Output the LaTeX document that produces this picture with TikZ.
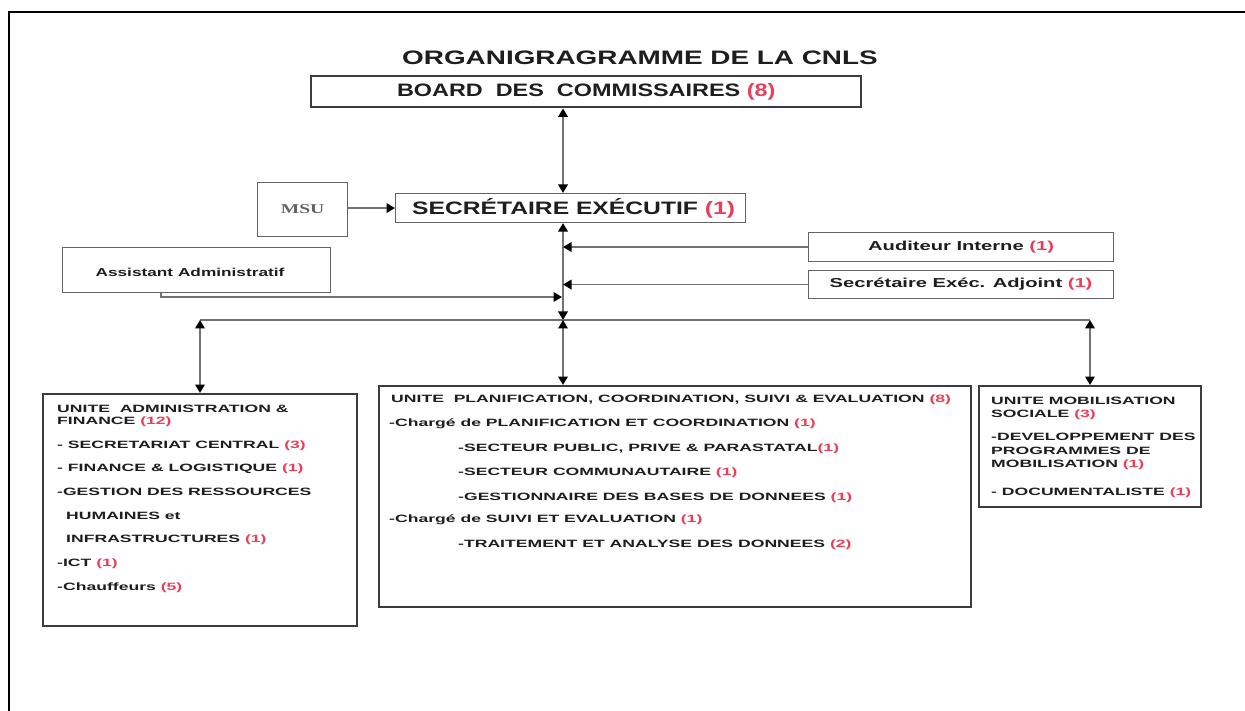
\documentclass[tikz,border=0pt]{standalone}
\usepackage{fontspec}
\setmainfont{Liberation Sans}
\newfontfamily\msufont{Liberation Serif}
\usepackage{graphicx}
\usetikzlibrary{arrows.meta}
\definecolor{numred}{RGB}{232,64,88}
\definecolor{boxc}{RGB}{60,60,60}
\definecolor{thinc}{RGB}{100,100,100}
\definecolor{linec}{RGB}{115,115,115}
\definecolor{txtc}{RGB}{30,30,30}
\newcommand{\rn}[1]{\textcolor{numred}{#1}}
\newcommand{\sx}[2]{\scalebox{#1}[1]{#2}}
\begin{document}
\begin{tikzpicture}[x=1pt,y=-1pt,
  >={Triangle[length=8.5pt,width=9.5pt,color=black]},
  mainbox/.style={draw=boxc, line width=2.4pt, rectangle, inner sep=0pt, anchor=north west},
  thinbox/.style={draw=thinc, line width=1.1pt, rectangle, inner sep=0pt, anchor=north west},
  conn/.style={draw=linec, line width=1.9pt},
  lbl/.style={anchor=west, inner sep=0pt, text=txtc, font=\bfseries\fontsize{10.6}{12}\selectfont},
  bigtxt/.style={inner sep=0pt, text=txtc, font=\bfseries\fontsize{18}{21}\selectfont},
  midtxt/.style={inner sep=0pt, text=txtc, font=\bfseries\fontsize{13}{15}\selectfont},
]
\useasboundingbox (0,0) rectangle (1245,711);
\fill[white] (0,0) rectangle (1245,711);
% page frame
\draw[line width=2.5pt, black] (9,711) -- (9,12) -- (1245,12);

% title
\node[bigtxt, font=\bfseries\fontsize{19.5}{22}\selectfont] (title) at (640,58) {\sx{1.43}{ORGANIGRAGRAMME DE LA CNLS}};

% boxes
\node[mainbox, minimum width=550pt, minimum height=31pt] (board) at (310,75) {};
\node[thinbox, minimum width=350pt, minimum height=29pt] (se) at (395,193) {};
\node[thinbox, minimum width=90pt, minimum height=54pt] (msu) at (257,182) {};
\node[thinbox, minimum width=305pt, minimum height=29pt] (aud) at (808,232) {};
\node[thinbox, minimum width=305pt, minimum height=28pt] (sea) at (808,270) {};
\node[thinbox, minimum width=268pt, minimum height=45pt] (asst) at (62,247) {};
\node[mainbox, minimum width=314pt, minimum height=232pt] (af) at (42,393) {};
\node[mainbox, minimum width=592pt, minimum height=221pt] (pcse) at (378,385) {};
\node[mainbox, minimum width=222pt, minimum height=121pt] (ms) at (978,385) {};

% box texts
\node[bigtxt] (boardt) at (board.center) {\sx{1.3}{BOARD\ \ DES\ \ COMMISSAIRES \rn{(8)}}};
\node[bigtxt] (set) at ([xshift=3pt]se.center) {\sx{1.37}{SECRÉTAIRE EXÉCUTIF \rn{(1)}}};
\node[inner sep=0pt, text=thinc, font=\msufont\bfseries\fontsize{13.5}{15}\selectfont] (msut) at (msu.center) {\sx{1.45}{MSU}};
\node[midtxt] (audt) at (aud.center) {\sx{1.55}{Auditeur Interne \rn{(1)}}};
\node[midtxt] (seat) at (sea.center) {\sx{1.55}{Secrétaire Exéc. Adjoint \rn{(1)}}};
\node[inner sep=0pt, text=txtc, font=\bfseries\fontsize{11.5}{13}\selectfont] (asstt) at (190,272) {\sx{1.5}{Assistant Administratif}};

% AF texts
\node[lbl] (af1) at (57,409) {\sx{1.66}{UNITE\ \ ADMINISTRATION \&}};
\node[lbl] (af2) at (57,422) {\sx{1.66}{FINANCE \rn{(12)}}};
\node[lbl] (af3) at (57,446) {\sx{1.66}{- SECRETARIAT CENTRAL \rn{(3)}}};
\node[lbl] (af4) at (57,469) {\sx{1.66}{- FINANCE \& LOGISTIQUE \rn{(1)}}};
\node[lbl] (af5) at (57,492) {\sx{1.66}{-GESTION DES RESSOURCES}};
\node[lbl] (af6) at (66,516) {\sx{1.66}{HUMAINES et}};
\node[lbl] (af7) at (66,540) {\sx{1.66}{INFRASTRUCTURES \rn{(1)}}};
\node[lbl] (af8) at (57,564) {\sx{1.66}{-ICT \rn{(1)}}};
\node[lbl] (af9) at (57,588) {\sx{1.66}{-Chauffeurs \rn{(5)}}};

% PCSE texts
\node[lbl] (p1) at (391,400) {\sx{1.66}{UNITE\ \ PLANIFICATION, COORDINATION, SUIVI \& EVALUATION \rn{(8)}}};
\node[lbl] (p2) at (389,424) {\sx{1.66}{-Chargé de PLANIFICATION ET COORDINATION \rn{(1)}}};
\node[lbl] (p3) at (458,449) {\sx{1.66}{-SECTEUR PUBLIC, PRIVE \& PARASTATAL\rn{(1)}}};
\node[lbl] (p4) at (458,473) {\sx{1.66}{-SECTEUR COMMUNAUTAIRE \rn{(1)}}};
\node[lbl] (p5) at (458,498) {\sx{1.66}{-GESTIONNAIRE DES BASES DE DONNEES \rn{(1)}}};
\node[lbl] (p6) at (389,520) {\sx{1.66}{-Chargé de SUIVI ET EVALUATION \rn{(1)}}};
\node[lbl] (p7) at (458,545) {\sx{1.66}{-TRAITEMENT ET ANALYSE DES DONNEES \rn{(2)}}};

% MS texts
\node[lbl] (m1) at (991,401) {\sx{1.66}{UNITE MOBILISATION}};
\node[lbl] (m2) at (991,415) {\sx{1.66}{SOCIALE \rn{(3)}}};
\node[lbl] (m3) at (991,437) {\sx{1.66}{-DEVELOPPEMENT DES}};
\node[lbl] (m4) at (991,451) {\sx{1.66}{PROGRAMMES DE}};
\node[lbl] (m5) at (991,465) {\sx{1.66}{MOBILISATION \rn{(1)}}};
\node[lbl] (m6) at (991,493) {\sx{1.66}{- DOCUMENTALISTE \rn{(1)}}};

% connector helper points
\coordinate (spine) at (563,0);
\coordinate (hl) at (200,320);
\coordinate (hr) at (1090,320);
\coordinate (asstturn) at (161,297);

% connectors
\draw[conn,<->] (board.south -| spine) -- (se.north -| spine);
\draw[conn,->] (msu.east |- se.west) -- (se.west);
\draw[conn,<->] (se.south -| spine) -- (hl -| spine);
\draw[conn,->] (aud.west) -- (aud.west -| spine);
\draw[conn,->] (sea.west) -- (sea.west -| spine);
\draw[conn,->, shorten >=1pt] (asst.south -| asstturn) -- (asstturn) -- (asstturn -| spine);
\draw[conn] (hl) -- (hr);
\draw[conn,<->] (hl -| spine) -- (pcse.north -| spine);
\draw[conn,<->] (hl) -- (af.north -| hl);
\draw[conn,<->] (hr) -- (ms.north -| hr);
\end{tikzpicture}
\end{document}
